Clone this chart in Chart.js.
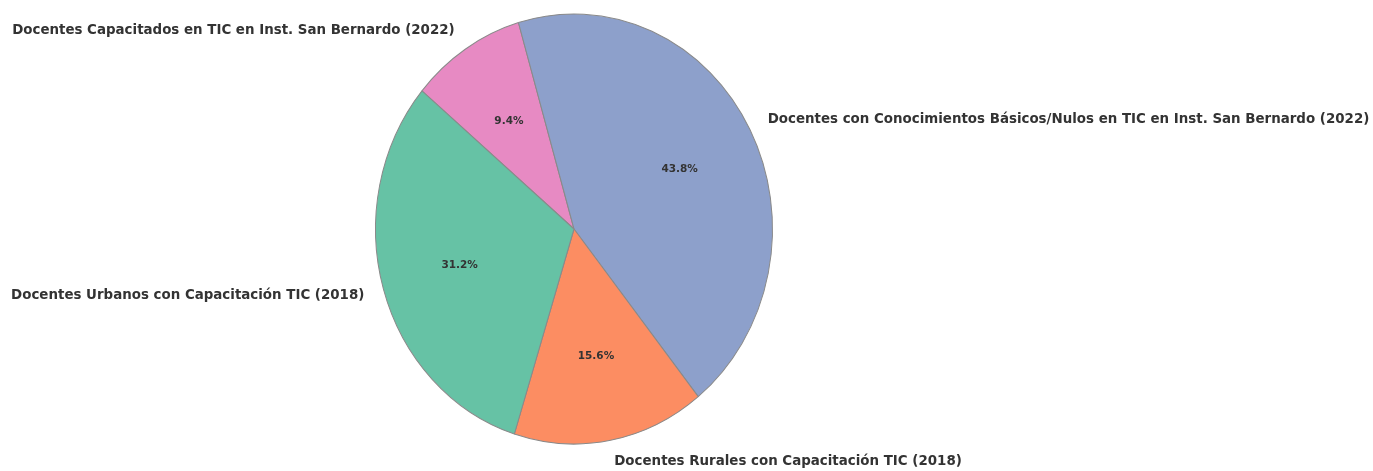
<!DOCTYPE html>
<html>
<head>
<meta charset="utf-8">
<script src="https://cdn.jsdelivr.net/npm/chart.js@4"></script>
<style>
html,body{margin:0;padding:0;background:#fff;}
canvas{display:block;}
</style>
</head>
<body>
<canvas id="c" width="1373" height="471"></canvas>
<script>
// Data (Chart.js draws clockwise; order chosen so slices match the reference)
const categories = [
  "Docentes Capacitados en TIC en Inst. San Bernardo (2022)",
  "Docentes con Conocimientos Básicos/Nulos en TIC en Inst. San Bernardo (2022)",
  "Docentes Rurales con Capacitación TIC (2018)",
  "Docentes Urbanos con Capacitación TIC (2018)"
];
const values = [3, 14, 5, 10];
const colors = ["#e78ac3", "#8da0cb", "#fc8d62", "#66c2a5"];

const RX = 198.5, RY = 215;
const SY = RY / RX;

// round half to even, one decimal (as the reference's percent labels do)
function fmtPct(v) {
  const x = v * 10;
  const f = Math.floor(x);
  const d = x - f;
  let r;
  if (Math.abs(d - 0.5) < 1e-9) r = (f % 2 === 0) ? f : f + 1;
  else r = Math.round(x);
  return (r / 10).toFixed(1) + '%';
}

const ellipsePlugin = {
  id: 'ellipse',
  beforeDatasetsDraw(chart) {
    const arc = chart.getDatasetMeta(0).data[0];
    const {x, y} = arc.getProps(['x', 'y'], true);
    const ctx = chart.ctx;
    ctx.save();
    ctx.translate(x, y);
    ctx.scale(1, SY);
    ctx.translate(-x, -y);
  },
  afterDatasetsDraw(chart) {
    chart.ctx.restore();
  }
};

const labelPlugin = {
  id: 'pieLabels',
  afterDraw(chart) {
    const ctx = chart.ctx;
    const meta = chart.getDatasetMeta(0);
    const data = chart.data.datasets[0].data;
    const total = data.reduce((a, b) => a + b, 0);
    ctx.save();
    ctx.fillStyle = '#333333';
    ctx.textBaseline = 'middle';
    meta.data.forEach((arc, i) => {
      const p = arc.getProps(['x', 'y', 'startAngle', 'endAngle', 'outerRadius'], true);
      const mid = (p.startAngle + p.endAngle) / 2;
      const c = Math.cos(mid), s = Math.sin(mid);
      const lx = p.x + 1.1 * p.outerRadius * c;
      const ly = p.y + 1.1 * p.outerRadius * SY * s;
      ctx.font = 'bold 13.4px "DejaVu Sans"';
      ctx.textAlign = c > 0 ? 'left' : 'right';
      ctx.fillText(chart.data.labels[i], lx, ly);
      const px = p.x + 0.6 * p.outerRadius * c;
      const py = p.y + 0.6 * p.outerRadius * SY * s;
      ctx.font = 'bold 10.5px "DejaVu Sans"';
      ctx.textAlign = 'center';
      ctx.fillText(fmtPct(data[i] / total * 100), px, py);
    });
    ctx.restore();
  }
};

new Chart(document.getElementById('c'), {
  type: 'pie',
  data: {
    labels: categories,
    datasets: [{
      data: values,
      backgroundColor: colors,
      borderColor: '#8a8a8a',
      borderWidth: 1,
      clip: false
    }]
  },
  options: {
    responsive: false,
    animation: false,
    rotation: -50,
    radius: RX,
    layout: { padding: { left: 0, right: 225, top: 0, bottom: 13 } },
    plugins: {
      legend: { display: false },
      tooltip: { enabled: false }
    }
  },
  plugins: [ellipsePlugin, labelPlugin]
});
</script>
</body>
</html>
